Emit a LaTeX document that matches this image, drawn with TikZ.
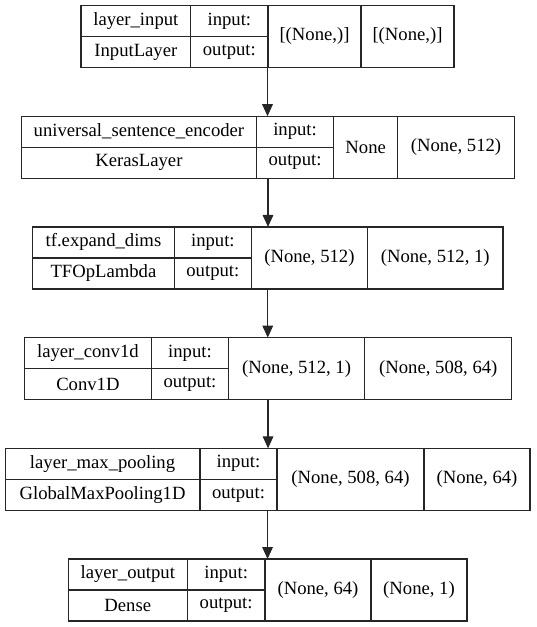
\documentclass[tikz,border=0pt]{standalone}
\usepackage{fontspec}
\setmainfont{Liberation Serif}
\usetikzlibrary{arrows.meta}
\newcommand\kgeom[6]{\def\kT{#1}\def\kL{#2}\def\kA{#3}\def\kB{#4}\def\kC{#5}\def\kR{#6}}
\newcommand\kbox[5]{%
  \pgfmathsetmacro\kW{\kR-\kL}%
  \pgfmathsetmacro\kX{(\kL+\kR)/2}%
  \pgfmathsetmacro\kM{\kT+31}%
  \node[outer, minimum width={\kW*0.75pt}] (#1) at (\kX,-\kM) {};
  \draw[inner] (\kA,-\kT) -- (\kA,-\kT-62);
  \draw[inner] (\kB,-\kT) -- (\kB,-\kT-62);
  \draw[inner] (\kC,-\kT) -- (\kC,-\kT-62);
  \draw[inner] (\kL,-\kM) -- (\kB,-\kM);
  \node[txt] (#1-name) at ({(\kL+\kA)/2},-\kT-15.5) {#2};
  \node[txt] (#1-class) at ({(\kL+\kA)/2},-\kT-46.5) {#3};
  \node[txt] (#1-in) at ({(\kA+\kB)/2},-\kT-15.5) {input:};
  \node[txt] (#1-out) at ({(\kA+\kB)/2},-\kT-46.5) {output:};
  \node[txt] (#1-s1) at ({(\kB+\kC)/2},-\kM) {#4};
  \node[txt] (#1-s2) at ({(\kC+\kR)/2},-\kM) {#5};
}
\tikzset{
  outer/.style={draw=black!85, line width=0.9pt, minimum height={62*0.75pt}, inner sep=0pt, outer sep=0pt},
  inner/.style={draw=black!85, line width=0.9pt},
  txt/.style={font=\fontsize{14pt}{16pt}\selectfont, inner sep=0pt, anchor=center},
  flow/.style={draw=black!85, line width=0.9pt, -{Triangle[length=9pt,width=8pt]}},
}
\begin{document}
\begin{tikzpicture}[x=0.75pt,y=0.75pt]
\useasboundingbox (0,0) rectangle (536,-627);
\kgeom{5.5}{81}{190.7}{268}{361}{454}
\kbox{b1}{layer\_input}{InputLayer}{[(None,)]}{[(None,)]}
\kgeom{116.2}{21.5}{256.4}{333.7}{397.6}{514.5}
\kbox{b2}{universal\_sentence\_encoder}{KerasLayer}{None}{(None, 512)}
\kgeom{226.9}{32.5}{174.4}{251.3}{367.5}{503}
\kbox{b3}{tf.expand\_dims}{TFOpLambda}{(None, 512)}{(None, 512, 1)}
\kgeom{337.6}{24.3}{151.5}{228.4}{364.8}{511.8}
\kbox{b4}{layer\_conv1d}{Conv1D}{(None, 512, 1)}{(None, 508, 64)}
\kgeom{448.3}{5.1}{200}{277}{424}{530}
\kbox{b5}{layer\_max\_pooling}{GlobalMaxPooling1D}{(None, 508, 64)}{(None, 64)}
\kgeom{559}{68.3}{187.3}{265}{371}{467}
\kbox{b6}{layer\_output}{Dense}{(None, 64)}{(None, 1)}
\draw[flow] (b1.south) -- (b1.south |- b2.north);
\draw[flow] (b2.south) -- (b2.south |- b3.north);
\draw[flow] (b3.south) -- (b3.south |- b4.north);
\draw[flow] (b4.south) -- (b4.south |- b5.north);
\draw[flow] (b5.south) -- (b5.south |- b6.north);
\end{tikzpicture}
\end{document}
